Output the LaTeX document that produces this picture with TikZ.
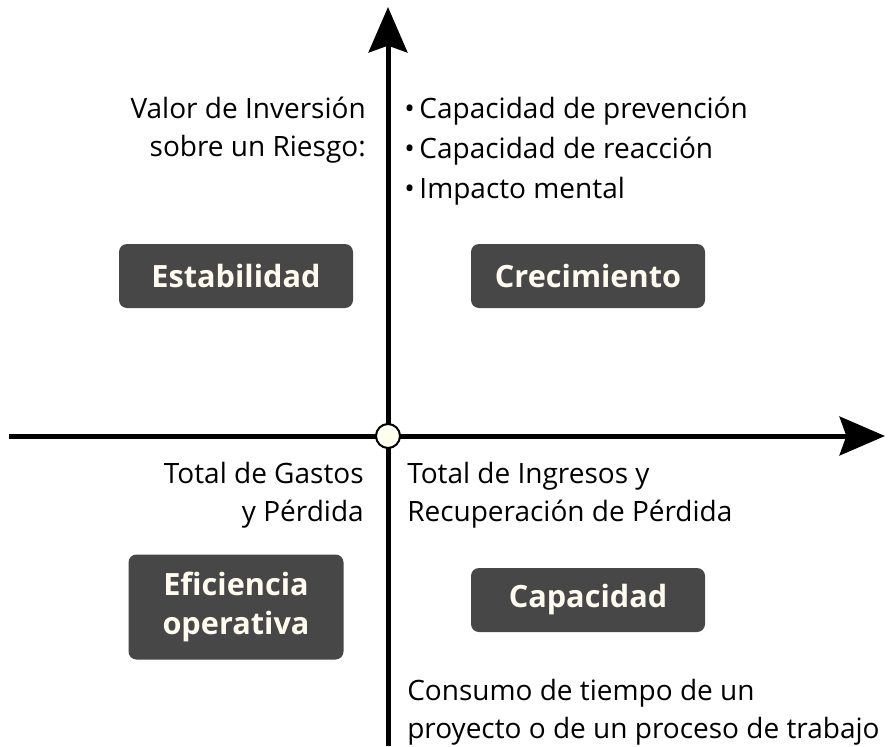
\documentclass[tikz,border=0pt]{standalone}
\usepackage{fontspec}
\setmainfont{Open Sans}
\usetikzlibrary{arrows.meta}

\definecolor{cajagris}{HTML}{474747}
\definecolor{crema}{HTML}{FFFBEF}
\definecolor{marfil}{HTML}{FFFFF0}

\tikzstyle{eje} = [line width=3.75pt, -{Stealth[length=34pt, width=29pt, inset=5pt]}]
\tikzstyle{caja} = [fill=cajagris, rounded corners=6pt, text=crema, align=center,
    font=\fontsize{23}{29}\selectfont\bfseries, minimum width=175.5pt, minimum height=48pt]
\tikzstyle{texto} = [font=\fontsize{21}{28.5}\selectfont, inner sep=0pt]
\tikzstyle{origen} = [circle, draw, line width=1.5pt, fill=marfil, minimum size=18pt, inner sep=0pt]

\begin{document}
\begin{tikzpicture}[x=0.75pt, y=-0.75pt]
\useasboundingbox (0,0) rectangle (892,746);

% ejes
\coordinate (izq) at (9,436);
\coordinate (der) at (885,436);
\coordinate (abajo) at (388,746);
\coordinate (arriba) at (388,7);
\draw[eje] (abajo) -- (arriba);
\draw[eje] (izq) -- (der);
\node[origen] (centro) at (388,436) {};

% cuadrantes
\node[caja] (estabilidad) at (236,276) {Estabilidad};
\node[caja] (crecimiento) at (588,276) {Crecimiento};
\node[caja, minimum width=161.25pt, minimum height=78.75pt] (eficiencia) at (236,607) {Eficiencia\\operativa};
\node[caja] (capacidad) at (588,600) {Capacidad};

% textos (base = ultima linea)
\node[texto, anchor=base east, align=right] (valor) at (366,156)
    {Valor de Inversión\\sobre un Riesgo:};
\node[texto, anchor=base west, align=left, font=\fontsize{21}{30}\selectfont] (lista) at (404,198)
    {•\,Capacidad de prevención\\•\,Capacidad de reacción\\•\,Impacto mental};
\node[texto, anchor=base east, align=right] (gastos) at (364,521)
    {Total de Gastos\\y Pérdida};
\node[texto, anchor=base west, align=left] (ingresos) at (407,521)
    {Total de Ingresos y\\Recuperación de Pérdida};
\node[texto, anchor=base west, align=left] (consumo) at (407,738)
    {Consumo de tiempo de un\\proyecto o de un proceso de trabajo};
\end{tikzpicture}
\end{document}
